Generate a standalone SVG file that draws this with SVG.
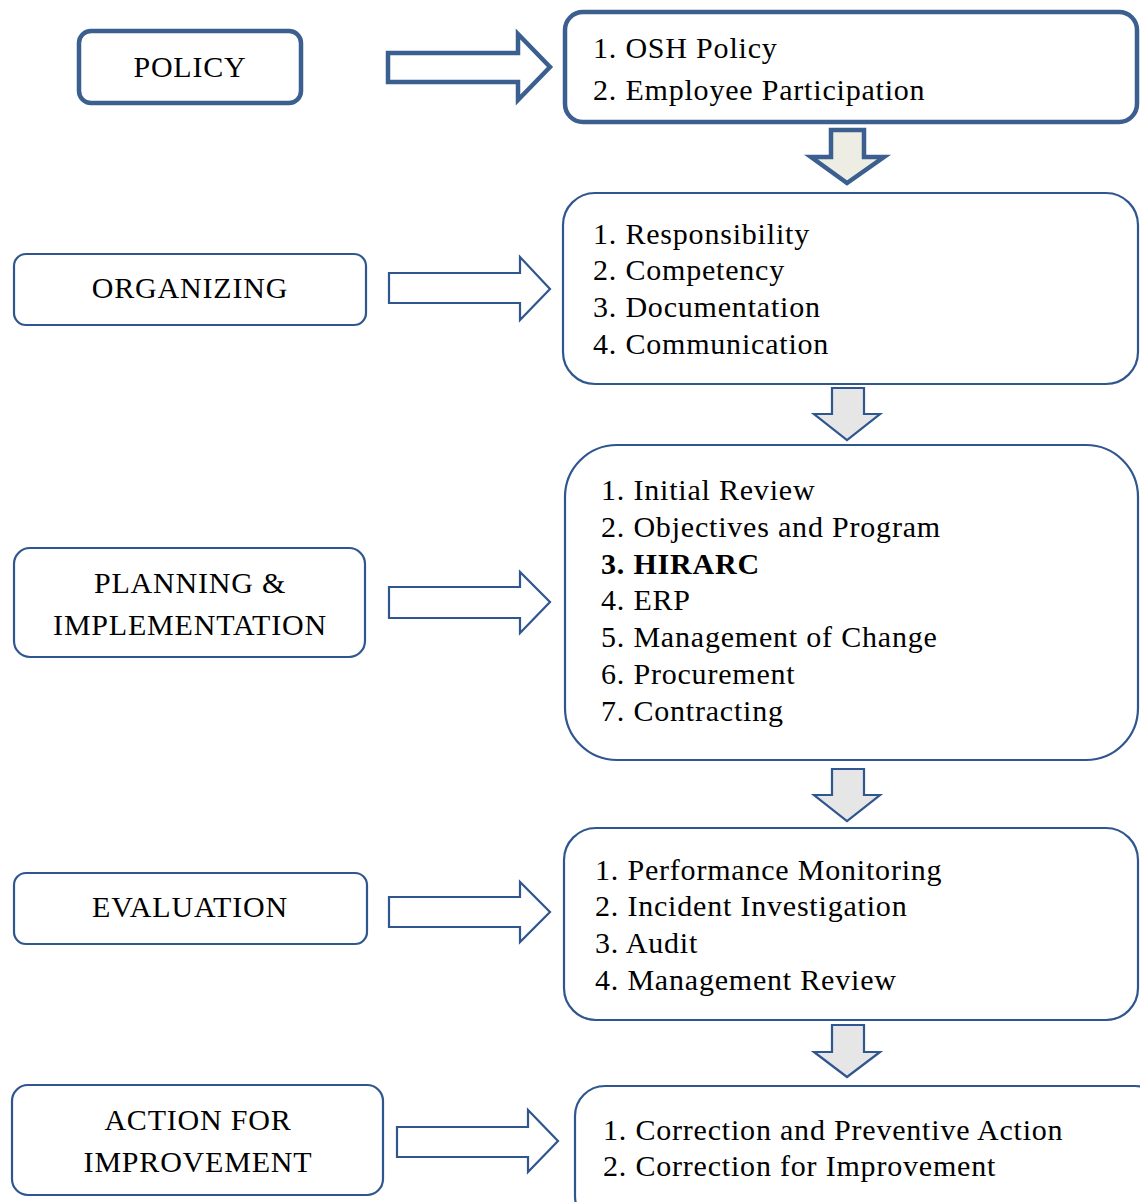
<svg xmlns="http://www.w3.org/2000/svg" width="1140" height="1202" viewBox="0 0 1140 1202">
  <style>
    .txt { font-family: "Liberation Serif", "Times New Roman", serif; font-size: 30px; letter-spacing: 0.8px; fill: #000; }
    .mid { text-anchor: middle; }
    .box { fill: #fff; stroke: #30568f; stroke-width: 2.2; }
    .thick { stroke: #3b5f8e; stroke-width: 4.5; }
    .arr { fill: #fff; stroke: #30568f; stroke-width: 2.2; stroke-linejoin: miter; }
    .arr.thick { stroke: #3b5f8e; stroke-width: 4.5; }
    .down { fill: #e6e6e6; stroke: #30568f; stroke-width: 2.2; stroke-linejoin: miter; }
    .down.first { fill: #eeede3; stroke: #3b5f8e; stroke-width: 4.5; }
  </style>
  <rect width="1140" height="1202" fill="#fff"/>

  <!-- left-hand stage labels -->
  <g id="policy">
    <rect class="box thick" x="79" y="31" width="222" height="72" rx="12"/>
    <text class="txt mid" x="190" y="77">POLICY</text>
  </g>
  <g id="organizing">
    <rect class="box" x="14" y="254" width="352" height="71" rx="12"/>
    <text class="txt mid" x="190" y="298">ORGANIZING</text>
  </g>
  <g id="planning">
    <rect class="box" x="14" y="548" width="351" height="109" rx="16"/>
    <text class="txt mid" x="190" y="593">PLANNING &amp;</text>
    <text class="txt mid" x="190" y="635">IMPLEMENTATION</text>
  </g>
  <g id="evaluation">
    <rect class="box" x="14" y="873" width="353" height="71" rx="12"/>
    <text class="txt mid" x="190" y="917">EVALUATION</text>
  </g>
  <g id="action">
    <rect class="box" x="12" y="1085" width="371" height="110" rx="16"/>
    <text class="txt mid" x="198" y="1130">ACTION FOR</text>
    <text class="txt mid" x="198" y="1172">IMPROVEMENT</text>
  </g>

  <!-- right-hand element lists -->
  <g id="policy-items">
    <rect class="box thick" x="565" y="12" width="572" height="110" rx="18"/>
    <text class="txt" x="593" y="58">1. OSH Policy</text>
    <text class="txt" x="593" y="100">2. Employee Participation</text>
  </g>
  <g id="organizing-items">
    <rect class="box" x="563" y="193" width="575" height="191" rx="32"/>
    <text class="txt" x="593" y="244">1. Responsibility</text>
    <text class="txt" x="593" y="280">2. Competency</text>
    <text class="txt" x="593" y="317">3. Documentation</text>
    <text class="txt" x="593" y="354">4. Communication</text>
  </g>
  <g id="planning-items">
    <rect class="box" x="565" y="445" width="573" height="315" rx="52"/>
    <text class="txt" x="601" y="500">1. Initial Review</text>
    <text class="txt" x="601" y="537">2. Objectives and Program</text>
    <text class="txt" x="601" y="574" font-weight="bold">3. HIRARC</text>
    <text class="txt" x="601" y="610">4. ERP</text>
    <text class="txt" x="601" y="647">5. Management of Change</text>
    <text class="txt" x="601" y="684">6. Procurement</text>
    <text class="txt" x="601" y="721">7. Contracting</text>
  </g>
  <g id="evaluation-items">
    <rect class="box" x="564" y="828" width="574" height="192" rx="32"/>
    <text class="txt" x="595" y="880">1. Performance Monitoring</text>
    <text class="txt" x="595" y="916">2. Incident Investigation</text>
    <text class="txt" x="595" y="953">3. Audit</text>
    <text class="txt" x="595" y="990">4. Management Review</text>
  </g>
  <g id="action-items">
    <rect class="box" x="575" y="1086" width="590" height="140" rx="30"/>
    <text class="txt" x="603" y="1140">1. Correction and Preventive Action</text>
    <text class="txt" x="603" y="1176">2. Correction for Improvement</text>
  </g>

  <!-- block arrows -->
  <g id="connectors">
    <path class="arr thick" d="M388,53 H518 V34 L550,67 L518,100 V82 H388 Z"/>
    <path class="arr" d="M389,273 H520 V257 L550,289 L520,320 V303 H389 Z"/>
    <path class="arr" d="M389,587 H520 V572 L550,602 L520,633 V618 H389 Z"/>
    <path class="arr" d="M389,897 H520 V882 L550,912 L520,942 V927 H389 Z"/>
    <path class="arr" d="M397,1127 H528 V1110 L558,1141 L528,1172 V1157 H397 Z"/>

    <path class="down first" d="M831,130 H864 V157 H884 L847,183 L811,157 H831 Z"/>
    <path class="down" d="M832,388 H864 V414 H880 L847,440 L814,414 H832 Z"/>
    <path class="down" d="M832,769 H864 V795 H880 L847,821 L814,795 H832 Z"/>
    <path class="down" d="M832,1025 H864 V1052 H880 L847,1077 L814,1052 H832 Z"/>
  </g>
</svg>
